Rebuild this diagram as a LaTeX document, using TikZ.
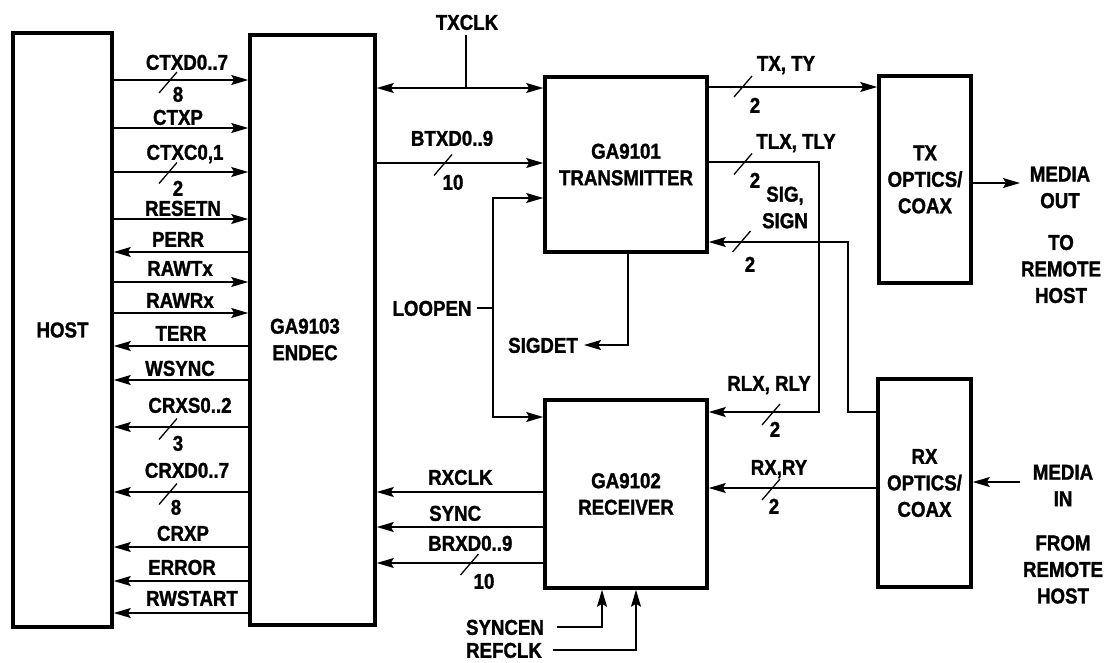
\documentclass[tikz,border=0pt]{standalone}
\usepackage{fontspec}
\setmainfont[FakeStretch=0.87, BoldFeatures={FakeBold=1.3}]{Liberation Sans}
\usetikzlibrary{arrows.meta,calc}
\newcommand\busmark[2]{\draw[wire] (#1-9,#2+11) -- (#1+9,#2-10);}
\begin{document}
\begin{tikzpicture}[x=1pt,y=-1pt,
  every node/.style={font={\bfseries\fontsize{21.5}{26.5}\selectfont}, inner sep=0pt},
  lbl/.style={text height=15.6pt, text depth=0pt},
  mlbl/.style={align=center},
  box/.style={draw, line width=3.6pt, inner sep=0pt},
  wire/.style={line width=1.3pt},
  arr/.style={wire, -{Stealth[length=17pt,width=10pt,inset=3pt]}},
  darr/.style={wire, {Stealth[length=17pt,width=10pt,inset=3pt]}-{Stealth[length=17pt,width=10pt,inset=3pt]}},
  ]
\useasboundingbox (0,0) rectangle (1106,662);

% boxes
\node[box, minimum width=99pt, minimum height=594pt] (host) at (62.5,330) {HOST};
\node[box, minimum width=125pt, minimum height=590pt] (endec) at (312.5,330) {};
\node[mlbl] (lendec) at (305,339.5) {GA9103\\ENDEC};
\node[box, minimum width=162pt, minimum height=175pt, align=center] (tx) at (626,164.5) {GA9101\\TRANSMITTER};
\node[box, minimum width=162pt, minimum height=188pt, align=center] (rx) at (626,494) {GA9102\\RECEIVER};
\node[box, minimum width=92pt, minimum height=207pt, align=center] (txo) at (925,179.5) {TX\\OPTICS/\\COAX};
\node[box, minimum width=93pt, minimum height=208pt, align=center] (rxo) at (924.5,483) {RX\\OPTICS/\\COAX};

% host <-> endec
\foreach \yy in {80,128,172,219,282,313}
  \draw[arr] (host.east |- 0,\yy) -- (endec.west |- 0,\yy);
\foreach \yy in {252,346,380,427,492,547,581,613}
  \draw[arr] (endec.west |- 0,\yy) -- (host.east |- 0,\yy);

\node[lbl] (l1) at (187,62) {CTXD0..7};
\node[lbl] (n1) at (178,94) {8};
\node[lbl] (l2) at (178,117) {CTXP};
\node[lbl] (l3) at (185,152) {CTXC0,1};
\node[lbl] (n3) at (178,188) {2};
\node[lbl] (l4) at (183,208) {RESETN};
\node[lbl] (l5) at (178,239) {PERR};
\node[lbl] (l6) at (180,268) {RAWTx};
\node[lbl] (l7) at (180,300) {RAWRx};
\node[lbl] (l8) at (181,333) {TERR};
\node[lbl] (l9) at (180,368) {WSYNC};
\node[lbl] (l10) at (190,405) {CRXS0..2};
\node[lbl] (n10) at (178,443) {3};
\node[lbl] (l11) at (187,470) {CRXD0..7};
\node[lbl] (n11) at (176,507) {8};
\node[lbl] (l12) at (183,533) {CRXP};
\node[lbl] (l13) at (182,567) {ERROR};
\node[lbl] (l14) at (192,598) {RWSTART};
\busmark{168}{82}
\busmark{168}{172.5}
\busmark{168}{428.5}
\busmark{168}{493.5}

% TXCLK
\node[lbl] (ltxclk) at (467,22) {TXCLK};
\coordinate (txclkj) at (466,88);
\draw[darr] (endec.east |- txclkj) -- (tx.west |- txclkj);
\draw[wire] (466,35) -- (txclkj);

% BTXD
\draw[arr] (endec.east |- 0,163) -- (tx.west |- 0,163);
\node[lbl] (lbtxd) at (452,138) {BTXD0..9};
\node[lbl] (nbtxd) at (453,182) {10};
\busmark{443}{164.5}

% LOOPEN
\node[lbl] (lloopen) at (432,308) {LOOPEN};
\coordinate (lpj) at (493,308);
\draw[wire] ([xshift=5pt]lloopen.east) -- (lpj);
\draw[arr] (lpj) |- (tx.west |- 0,198);
\draw[arr] (lpj) |- (rx.west |- 0,417);

% SIGDET
\node[lbl] (lsigdet) at (543,345) {SIGDET};
\draw[arr] (tx.south -| 628,0) |- ([xshift=6pt]lsigdet.east);

% receiver outputs
\draw[arr] (rx.west |- 0,492) -- (endec.east |- 0,492);
\draw[arr] (rx.west |- 0,527) -- (endec.east |- 0,527);
\draw[arr] (rx.west |- 0,563) -- (endec.east |- 0,563);
\node[lbl, anchor=west] (lrxclk) at (428,477) {RXCLK};
\node[lbl, anchor=west] (lsync) at (429,513) {SYNC};
\node[lbl, anchor=west] (lbrxd) at (428,543) {BRXD0..9};
\node[lbl] (nbrxd) at (484,581) {10};
\busmark{469.5}{564}

% SYNCEN / REFCLK
\node[lbl] (lsyncen) at (505,627) {SYNCEN};
\node[lbl] (lrefclk) at (504,650) {REFCLK};
\coordinate (sen) at (557,627);
\coordinate (rfc) at (553,650);
\draw[arr] (sen) -| (rx.south -| 602,0);
\draw[arr] (rfc) -| (rx.south -| 636,0);

% TX, TY
\draw[arr] (tx.east |- 0,87) -- (txo.west |- 0,87);
\node[lbl] (ltxty) at (786,63) {TX, TY};
\node[lbl] (ntxty) at (755,105) {2};
\busmark{743}{86}

% TLX -> RLX
\draw[arr] (tx.east |- 0,162) -- (819,162) -- (819,412) -- (rx.east |- 0,412);
\node[lbl] (ltlx) at (796,141) {TLX, TLY};
\node[lbl] (ntlx) at (755,180) {2};
\busmark{743}{163.5}
\node[lbl] (lrlx) at (769,383) {RLX, RLY};
\node[lbl] (nrlx) at (775,429) {2};
\busmark{771}{414}

% SIG, SIGN
\draw[arr] (rxo.west |- 0,412) -- (848,412) -- (848,242) -- (tx.east |- 0,242);
\node[mlbl] (lsig) at (785,207.5) {SIG,\\SIGN};
\node[lbl] (nsig) at (750,264) {2};
\busmark{741.5}{241}

% RX, RY
\draw[arr] (rxo.west |- 0,488) -- (rx.east |- 0,488);
\node[lbl] (lrxry) at (779,467) {RX,RY};
\node[lbl] (nrxry) at (774,506) {2};
\busmark{771}{489}

% media
\coordinate (mout) at (1020,183);
\draw[arr] (txo.east |- mout) -- (mout);
\node[mlbl] (lmout) at (1060,187.5) {MEDIA\\OUT};
\node[mlbl] (lto) at (1061,269) {TO\\REMOTE\\HOST};
\coordinate (medin) at (1020,482);
\draw[arr] (medin) -- (rxo.east |- medin);
\node[mlbl] (lmin) at (1063,485.5) {MEDIA\\IN};
\node[mlbl] (lfrom) at (1063,569.5) {FROM\\REMOTE\\HOST};
\end{tikzpicture}
\end{document}
